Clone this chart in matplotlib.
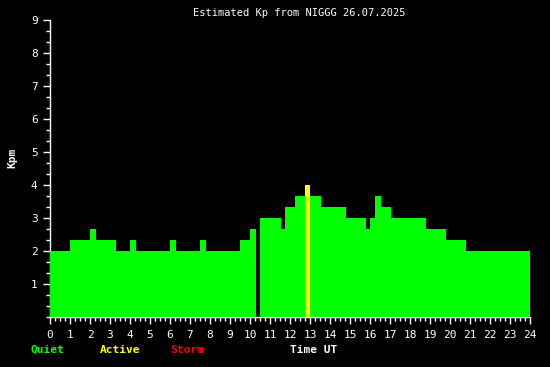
import numpy as np
import matplotlib
matplotlib.use("Agg")
import matplotlib.pyplot as plt
from matplotlib.ticker import MultipleLocator

# ----------------------------
# Data (hours UT, Kp in thirds)
# ----------------------------
edges = [0.0, 1.0, 2.0, 2.3, 3.3, 4.0, 4.3, 6.0, 6.3, 7.5, 7.8, 9.5, 10.0,
         10.3, 10.5, 11.55, 11.75, 12.25, 12.75, 13.0, 13.55, 14.8, 15.8,
         16.0, 16.25, 16.55, 17.05, 18.8, 19.8, 20.8, 24.0]
kp = [2.0, 2.33, 2.67, 2.33, 2.0, 2.33, 2.0, 2.33, 2.0, 2.33, 2.0, 2.33,
      2.67, 0.0, 3.0, 2.67, 3.33, 3.67, 4.0, 3.67, 3.33, 3.0, 2.67, 3.0,
      3.67, 3.33, 3.0, 2.67, 2.33, 2.0]
title = "Estimated Kp from NIGGG 26.07.2025"

starts = np.array(edges[:-1])
widths = np.diff(edges)
colors = ["#ff0000" if v >= 5 else "#ffff00" if v >= 4 else "#00ff00" for v in kp]

plt.rcParams["font.family"] = "DejaVu Sans Mono"

fig = plt.figure(figsize=(5.5, 3.67), dpi=100, facecolor="black")
ax = fig.add_axes([50 / 550, 1 - 317 / 367, 480 / 550, 297 / 367])
ax.set_facecolor("black")

ax.bar(starts, kp, width=widths, align="edge", color=colors,
       linewidth=0, antialiased=False, zorder=3)

ax.set_xlim(0, 24)
ax.set_ylim(0, 9)
ax.xaxis.set_major_locator(MultipleLocator(1))
ax.xaxis.set_minor_locator(MultipleLocator(0.25))
ax.set_yticks(range(1, 10))
ax.yaxis.set_minor_locator(MultipleLocator(1 / 3))

for s in ["top", "right"]:
    ax.spines[s].set_visible(False)
for s in ["left", "bottom"]:
    ax.spines[s].set_color("white")
    ax.spines[s].set_linewidth(1)

ax.tick_params(colors="white", labelsize=8, which="major", length=5, width=1, pad=4)
ax.tick_params(colors="white", which="minor", length=3, width=1)

fig.text(299 / 550, 1 - 13 / 367, title, color="white", fontsize=7.5,
         ha="center", va="center")
fig.text(12 / 550, 1 - 158 / 367, "Kpm", color="white", fontsize=8,
         fontweight="bold", rotation=90, ha="center", va="center")

fig.text(47 / 550, 1 - 350 / 367, "Quiet", color="#00ff00", fontsize=8,
         fontweight="bold", ha="center", va="center")
fig.text(120 / 550, 1 - 350 / 367, "Active", color="#ffff00", fontsize=8,
         fontweight="bold", ha="center", va="center")
fig.text(187 / 550, 1 - 350 / 367, "Storm", color="#ff0000", fontsize=8,
         fontweight="bold", ha="center", va="center")
fig.text(314 / 550, 1 - 350 / 367, "Time UT", color="white", fontsize=8,
         fontweight="bold", ha="center", va="center")

fig.savefig("out.png", dpi=100, facecolor="black")
